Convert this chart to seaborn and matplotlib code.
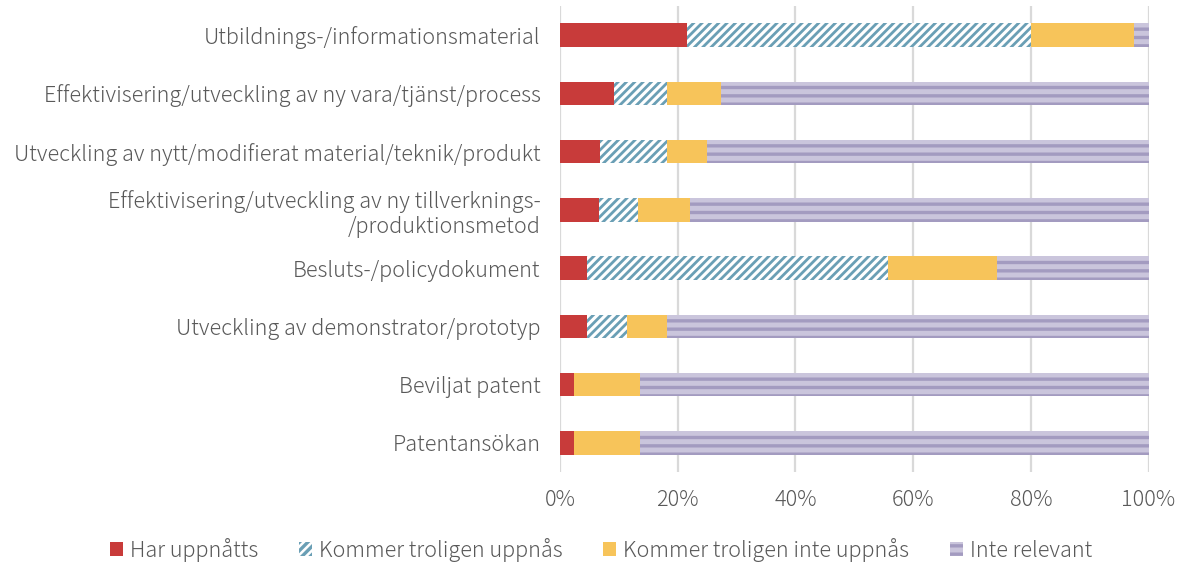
import matplotlib
matplotlib.use("Agg")
import matplotlib.pyplot as plt
import seaborn as sns
import numpy as np
import pandas as pd
from matplotlib.patches import Patch

categories = [
    "Utbildnings-/informationsmaterial",
    "Effektivisering/utveckling av ny vara/tjänst/process",
    "Utveckling av nytt/modifierat material/teknik/produkt",
    "Effektivisering/utveckling av ny tillverknings-\n/produktionsmetod",
    "Besluts-/policydokument",
    "Utveckling av demonstrator/prototyp",
    "Beviljat patent",
    "Patentansökan",
]
har_uppnatts = [21.6, 9.1, 6.8, 6.6, 4.6, 4.6, 2.3, 2.3]
kommer_uppnas = [58.5, 9.1, 11.4, 6.7, 51.1, 6.8, 0.0, 0.0]
kommer_inte = [17.4, 9.1, 6.8, 8.8, 18.5, 6.8, 11.3, 11.3]
inte_relevant = [2.5, 72.7, 75.0, 77.9, 25.8, 81.8, 86.4, 86.4]

series_names = ["Har uppnåtts", "Kommer troligen uppnås",
                "Kommer troligen inte uppnås", "Inte relevant"]
series_vals = [har_uppnatts, kommer_uppnas, kommer_inte, inte_relevant]

red = "#C83B3A"
blue = "#6A9FB5"
yellow = "#F7C45A"
lav_face = "#CAC5DC"
lav_line = "#A39BC0"
text_col = "#595959"
FS = 15.6

sns.set_theme(style="white")
plt.rcParams['font.family'] = ['Noto Sans CJK JP', 'DejaVu Sans']

fig = plt.figure(figsize=(11.87, 5.63), dpi=100)
ax = fig.add_axes([560/1187, 1-472/563, (1148.5-560)/1187, (472-6)/563])

cum = np.cumsum(np.array(series_vals), axis=0)
styles = [
    dict(face=red, edge=red, hatch=None, hlw=1.0),
    dict(face="white", edge=blue, hatch="////", hlw=2.0),
    dict(face=yellow, edge=yellow, hatch=None, hlw=1.0),
    dict(face=lav_face, edge=lav_line, hatch="--", hlw=2.4),
]

for i in range(3, -1, -1):
    plt.rcParams['hatch.linewidth'] = styles[i]["hlw"]
    df = pd.DataFrame({"cat": categories, "val": cum[i]})
    sns.barplot(data=df, x="val", y="cat", orient="h", width=0.4,
                color=styles[i]["face"], saturation=1, ax=ax)
    cont = ax.containers[-1]
    for p in cont.patches:
        p.set_facecolor(styles[i]["face"])
        p.set_edgecolor(styles[i]["edge"])
        p.set_linewidth(0)
        if styles[i]["hatch"]:
            p.set_hatch(styles[i]["hatch"])
            if hasattr(p, "set_hatch_linewidth"):
                p.set_hatch_linewidth(styles[i]["hlw"])

ax.set_xlim(0, 100)
ax.set_ylim(len(categories) - 0.5, -0.5)
ax.set_xticks([0, 20, 40, 60, 80, 100])
ax.set_xticklabels(["0%", "20%", "40%", "60%", "80%", "100%"])
ax.set_xlabel("")
ax.set_ylabel("")
ax.grid(axis="x", color="#D9D9D9", linewidth=1.6)
ax.set_axisbelow(True)
for s in ax.spines.values():
    s.set_visible(False)
ax.tick_params(axis="both", length=0, colors=text_col, labelsize=FS)
ax.tick_params(axis="x", pad=12)
ax.tick_params(axis="y", pad=14)
for lbl in ax.get_yticklabels() + ax.get_xticklabels():
    lbl.set_color(text_col)
    lbl.set_fontweight("light")
for lbl in ax.get_yticklabels():
    lbl.set_horizontalalignment("right")

legend_items = []
for name, st in zip(series_names, styles):
    plt.rcParams['hatch.linewidth'] = st["hlw"]
    h = Patch(facecolor=st["face"], edgecolor=st["edge"], linewidth=0,
              hatch=st["hatch"])
    if st["hatch"] and hasattr(h, "set_hatch_linewidth"):
        h.set_hatch_linewidth(st["hlw"])
    legend_items.append(h)
leg = fig.legend(legend_items, series_names, loc="center",
                 bbox_to_anchor=(601/1187, 1-550/563),
                 ncol=4, frameon=False, handlelength=0.6,
                 handleheight=0.6, handletextpad=0.3, columnspacing=1.9,
                 labelcolor=text_col, prop={"weight": "light", "size": FS})

fig.savefig("out.png", dpi=100)
